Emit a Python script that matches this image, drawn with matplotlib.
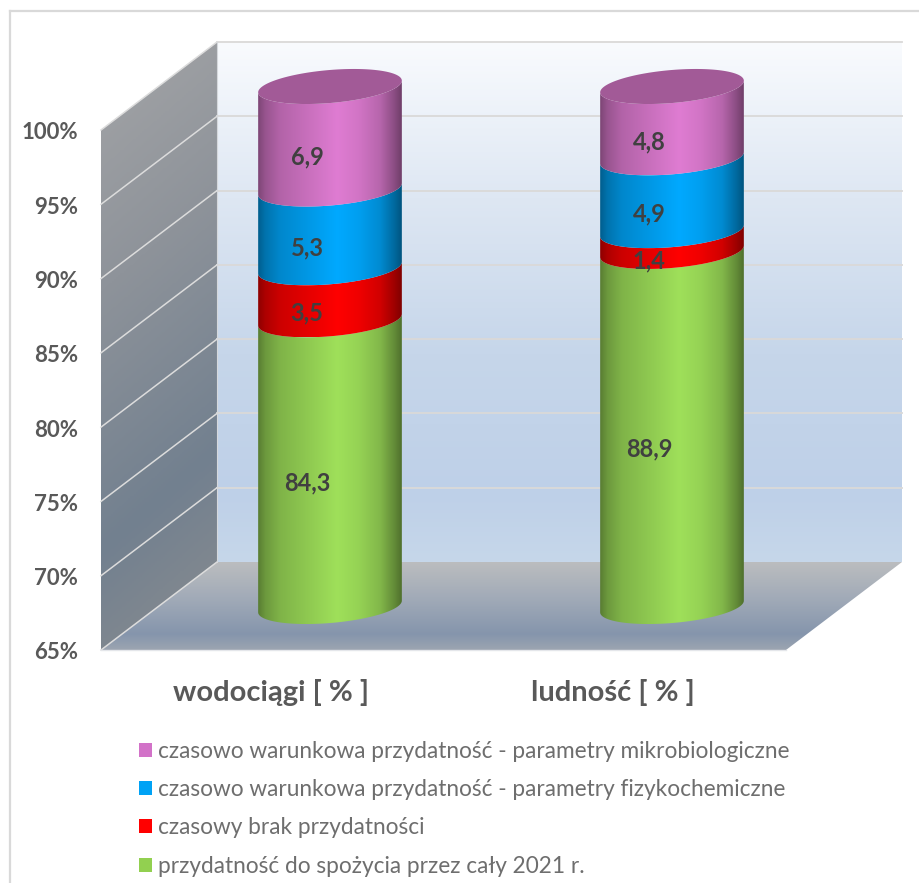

# -*- coding: utf-8 -*-
from matplotlib import pyplot as plt
from matplotlib.colors import LinearSegmentedColormap, to_rgb
from matplotlib.lines import Line2D
from matplotlib.patches import Patch, Polygon
import numpy as np

plt.rcParams['font.family'] = ['Lato', 'DejaVu Sans']

# dane
categories = ['wodociągi [ % ]', 'ludność [ % ]']
series_names = ['przydatność do spożycia przez cały 2021 r.',
                'czasowy brak przydatności',
                'czasowo warunkowa przydatność - parametry fizykochemiczne',
                'czasowo warunkowa przydatność - parametry mikrobiologiczne']
zdatna = [84.3, 88.9]
brak = [3.5, 1.4]
fizyko = [5.3, 4.9]
mikro = [6.9, 4.8]
series_values = [zdatna, brak, fizyko, mikro]
value_labels = [['84,3', '88,9'], ['3,5', '1,4'], ['5,3', '4,9'], ['6,9', '4,8']]
y_ticks = [65, 70, 75, 80, 85, 90, 95, 100]
y_min = 65

colors = ['#9FE05A', '#FF0000', '#00A9FF', '#DF7CD2']
legend_colors = ['#92D050', '#FF0000', '#00A2F5', '#D272C8']
cap_color = '#A25A97'

W, H = 920, 883
PX_X = 342.0           # pikseli na jedna kategorie
PX_Y = 520.0 / 35.0    # pikseli na 1 %


def X(px):
    return (px - 330) / PX_X


def Y(px):
    return 100 - (px - 130) / PX_Y


def DX(px):
    return px / PX_X


def DY(px):
    return px / PX_Y


fig = plt.figure(figsize=(W / 100, H / 100), dpi=100)
ax = fig.add_axes([0, 0, 1, 1])
ax.axis('off')


def gradient(points, stops, zorder, direction='y'):
    poly = Polygon(points, closed=True, fc='none', ec='none', transform=ax.transData)
    ax.add_patch(poly)
    cmap = LinearSegmentedColormap.from_list('g', stops, N=256)
    pts = np.array(points)
    ext = [pts[:, 0].min(), pts[:, 0].max(), pts[:, 1].min(), pts[:, 1].max()]
    g = np.linspace(0, 1, 256)
    img = g[:, None] if direction == 'y' else g[None, :]
    im = ax.imshow(img, cmap=cmap, vmin=0, vmax=1, extent=ext, origin='upper',
                   aspect='auto', zorder=zorder, interpolation='bilinear')
    im.set_clip_path(poly)
    return im


# tylna sciana
wall_dx = DX(116)
wall_dy = DY(88)
left, right = X(101), X(786)
ymin, ymax = y_ticks[0], y_ticks[-1]
back = [(left + wall_dx, ymin + wall_dy), (right + wall_dx, ymin + wall_dy),
        (right + wall_dx, ymax + wall_dy), (left + wall_dx, ymax + wall_dy)]
gradient(back, [(0, '#F9FBFE'), (0.3, '#DEE7F3'), (0.6, '#C6D6EA'), (0.87, '#BED0E8'), (1, '#C6D7EA')], 1)

# boczna sciana, przyciemnienie idzie po skosie
side = [(left, ymin), (left + wall_dx, ymin + wall_dy),
        (left + wall_dx, ymax + wall_dy), (left, ymax)]
poly = Polygon(side, closed=True, fc='none', ec='none')
ax.add_patch(poly)
cmap = LinearSegmentedColormap.from_list(
    's', [(0, '#A4A5A7'), (0.35, '#8E939A'), (0.72, '#72808F'), (1, '#8A8D90')])
gx, gy = np.meshgrid(np.linspace(0, 1, 60), np.linspace(0, 1, 300))
im = ax.imshow((gy * 0.86 + 0.14 * gx), cmap=cmap, vmin=0, vmax=1, aspect='auto',
               extent=[left, left + wall_dx, ymin, ymax + wall_dy], origin='upper', zorder=1)
im.set_clip_path(poly)

# podloga
floor = [(left, ymin), (right, ymin), (right + wall_dx, ymin + wall_dy), (left + wall_dx, ymin + wall_dy)]
gradient(floor, [(0, '#BBBDBF'), (0.4, '#A2ABB8'), (0.82, '#8595AC'), (1, '#9CA5B1')], 1)

# siatka
grid_color = '#DAD9D8'
for t in y_ticks:
    if t != y_min:
        ax.plot([left + wall_dx, right + wall_dx], [t + wall_dy] * 2, color=grid_color, lw=1.3, zorder=2)
    ax.plot([left, left + wall_dx], [t, t + wall_dy], color='#DCDCDC', lw=1.1, zorder=2)
ax.plot([left + wall_dx] * 2, [ymin + wall_dy, ymax + wall_dy], color='#D5D8DC', lw=0.8, zorder=2)
ax.plot([left, right], [ymin, ymin], color='#E4E6EA', lw=1.0, zorder=2)

# walce
half_w = 69
skew = 20
half_h = 17.5
tilt = 1.0
depth = DY(43.5)
t0 = np.arctan2(skew, half_w)
front = np.linspace(t0 + np.pi, t0 + 2 * np.pi, 80)
whole = np.linspace(0, 2 * np.pi, 160)


def ring(cat, pct, t):
    x = cat + DX(half_w * np.cos(t) + skew * np.sin(t))
    y = pct + depth + DY(tilt * np.cos(t) + half_h * np.sin(t))
    return np.column_stack([x, y])


shade_pos = [0, 0.05, 0.15, 0.35, 0.55, 0.7, 0.85, 0.95, 1]
shade_val = [0.56, 0.68, 0.8, 0.9, 1.0, 0.94, 0.82, 0.62, 0.5]

for cat in range(len(categories)):
    total = 0
    for s, vals in enumerate(series_values):
        # slupki liczone od zera, os ucieta na 65 %
        bottom = max(total, y_min)
        total = total + vals[cat]
        pts = np.vstack([ring(cat, bottom, front), ring(cat, total, front[::-1])])
        base = np.array(to_rgb(colors[s]))
        stops = [(p, tuple(base * v)) for p, v in zip(shade_pos, shade_val)]
        gradient(pts, stops, 3 + s, direction='x')
        mid = (bottom + total) / 2
        ax.text(cat - DX(23), mid + depth - DY(half_h), value_labels[s][cat], ha='center', va='center_baseline',
                fontsize=17, fontweight='bold', color='#404040', zorder=10)
    ax.add_patch(Polygon(ring(cat, total, whole), closed=True, fc=cap_color, ec='none', zorder=8))
    ax.text(cat - DX(59), Y(690), categories[cat], ha='center', va='center_baseline', fontsize=21,
            fontweight='bold', color='#595959')

for t in y_ticks:
    ax.text(X(78), t - DY(1), '%d%%' % t, ha='right', va='center_baseline', fontsize=16, fontweight='bold', color='#595959')

# legenda
handles = [Patch(fc=c, ec='none') for c in legend_colors[::-1]]
leg = ax.legend(handles, series_names[::-1], loc='upper left', bbox_to_anchor=(139 / W, 1 - 741 / H),
                frameon=False, fontsize=16.3, labelcolor='#6E6E6E', labelspacing=0.76,
                handlelength=0.57, handleheight=0.57, handletextpad=0.26, borderpad=0, borderaxespad=0)

# ramka wykresu
fig.add_artist(Line2D([10 / W, 10 / W], [0, 1 - 11 / H], color='#D9D9D9', lw=1.6))
fig.add_artist(Line2D([10 / W, 1], [1 - 11 / H, 1 - 11 / H], color='#D9D9D9', lw=1.6))

ax.set_xlim(X(0), X(W))
ax.set_ylim(Y(H), Y(0))
fig.savefig('out.png', dpi=100)
plt.close()
